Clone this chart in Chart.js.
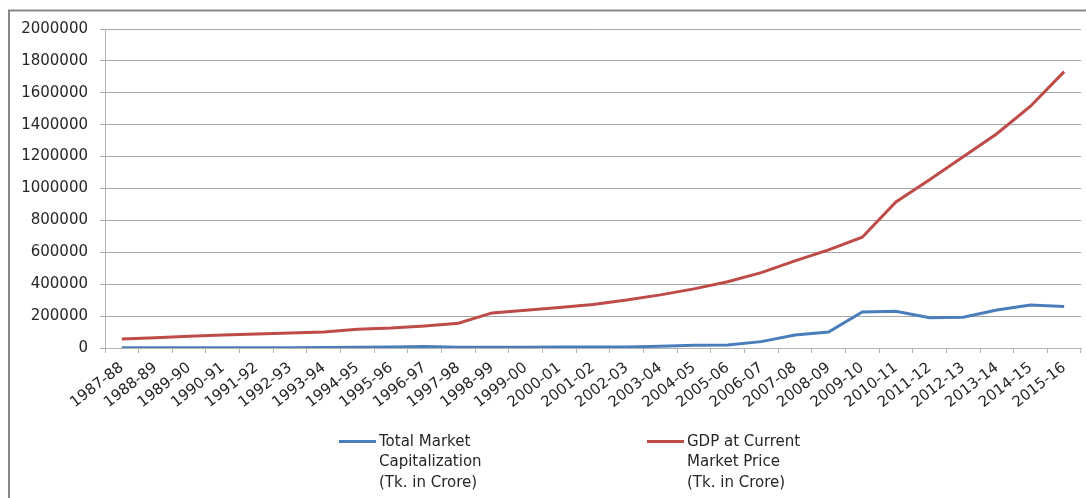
<!DOCTYPE html>
<html>
<head>
<meta charset="utf-8">
<script src="https://cdn.jsdelivr.net/npm/chart.js@4.4.1/dist/chart.umd.min.js"></script>
<style>
  html, body { margin: 0; padding: 0; background: #fff; }
  #wrap { position: relative; width: 1086px; height: 498px; overflow: hidden; }
  canvas { position: absolute; left: 0; top: 0; }
  .sw { position: absolute; width: 37px; height: 3px; }
  .lt { position: absolute; font-family: "DejaVu Sans", sans-serif; font-size: 15px; line-height: 20.5px; color: #262626; white-space: nowrap; }
</style>
</head>
<body>
<div id="wrap">
  <canvas id="c" width="1086" height="498"></canvas>
</div>
<script>
// ---- data ----
const categories = ["1987-88","1988-89","1989-90","1990-91","1991-92","1992-93","1993-94","1994-95","1995-96","1996-97","1997-98","1998-99","1999-00","2000-01","2001-02","2002-03","2003-04","2004-05","2005-06","2006-07","2007-08","2008-09","2009-10","2010-11","2011-12","2012-13","2013-14","2014-15","2015-16"];
const marketCap = [1000,1000,1000,1000,1100,1300,2500,4500,6000,9000,5000,4500,5000,6000,6500,7000,11000,17000,19000,40000,82000,100000,226000,231000,190000,193000,238000,270000,260000];
const gdp = [56000,64000,73000,81000,88000,94000,100000,117000,125000,138000,155000,220000,237086,253546,273201,300580,332973,370707,415728,472477,545822,614795,694324,915829,1055204,1198923,1343674,1515802,1732864];
const seriesNames = [["Total Market","Capitalization","(Tk. in Crore)"],["GDP at Current","Market Price","(Tk. in Crore)"]];
const yTicks = [0,200000,400000,600000,800000,1000000,1200000,1400000,1600000,1800000,2000000];

const colors = ["#4a7ebb", "#be4b48"];
const FONT = "DejaVu Sans";

const framePlugin = {
  id: 'frame',
  afterDraw(chart) {
    const ctx = chart.ctx;
    ctx.save();
    ctx.strokeStyle = '#878787';
    ctx.lineWidth = 2;
    ctx.beginPath();
    ctx.moveTo(9, 498);
    ctx.lineTo(9, 10.5);
    ctx.lineTo(1086, 10.5);
    ctx.stroke();
    ctx.restore();
  }
};

new Chart(document.getElementById('c'), {
  type: 'line',
  data: {
    labels: categories,
    datasets: [
      { label: seriesNames[0].join(' '), data: marketCap, borderColor: colors[0], backgroundColor: colors[0], borderWidth: 3, pointRadius: 0, tension: 0 },
      { label: seriesNames[1].join(' '), data: gdp, borderColor: colors[1], backgroundColor: colors[1], borderWidth: 3, pointRadius: 0, tension: 0 }
    ]
  },
  options: {
    responsive: false,
    animation: false,
    layout: { padding: { left: 0, top: 29, right: 5, bottom: 0 } },
    plugins: { legend: { display: false }, tooltip: { enabled: false } },
    scales: {
      x: {
        type: 'category',
        offset: true,
        grid: { display: true, drawOnChartArea: false, drawTicks: true, tickLength: 5, color: '#b4b4b4', offset: true },
        border: { display: true, color: '#b4b4b4', width: 1 },
        ticks: { autoSkip: false, minRotation: 38, maxRotation: 38, padding: 6, color: '#262626', font: { family: FONT, size: 15 } },
        afterFit(scale) { scale.height = 150; }
      },
      y: {
        min: 0, max: 2000000,
        afterBuildTicks(scale) { scale.ticks = yTicks.map(v => ({ value: v })); },
        grid: { color: '#a8a8a8', tickLength: 5, drawTicks: true },
        border: { display: true, color: '#b4b4b4', width: 1 },
        ticks: { padding: 12, color: '#262626', font: { family: FONT, size: 15 }, callback: v => String(v) },
        afterFit(scale) { scale.width = 105; }
      }
    }
  },
  plugins: [framePlugin]
});

// ---- legend (HTML) ----
const wrap = document.getElementById('wrap');
const legPos = [339, 647];
seriesNames.forEach((lines, i) => {
  const sw = document.createElement('div');
  sw.className = 'sw';
  sw.style.left = legPos[i] + 'px';
  sw.style.top = '439.5px';
  sw.style.background = colors[i];
  wrap.appendChild(sw);
  const t = document.createElement('div');
  t.className = 'lt';
  t.style.left = (legPos[i] + 40) + 'px';
  t.style.top = '430.5px';
  t.innerHTML = lines.join('<br>');
  wrap.appendChild(t);
});
</script>
</body>
</html>
